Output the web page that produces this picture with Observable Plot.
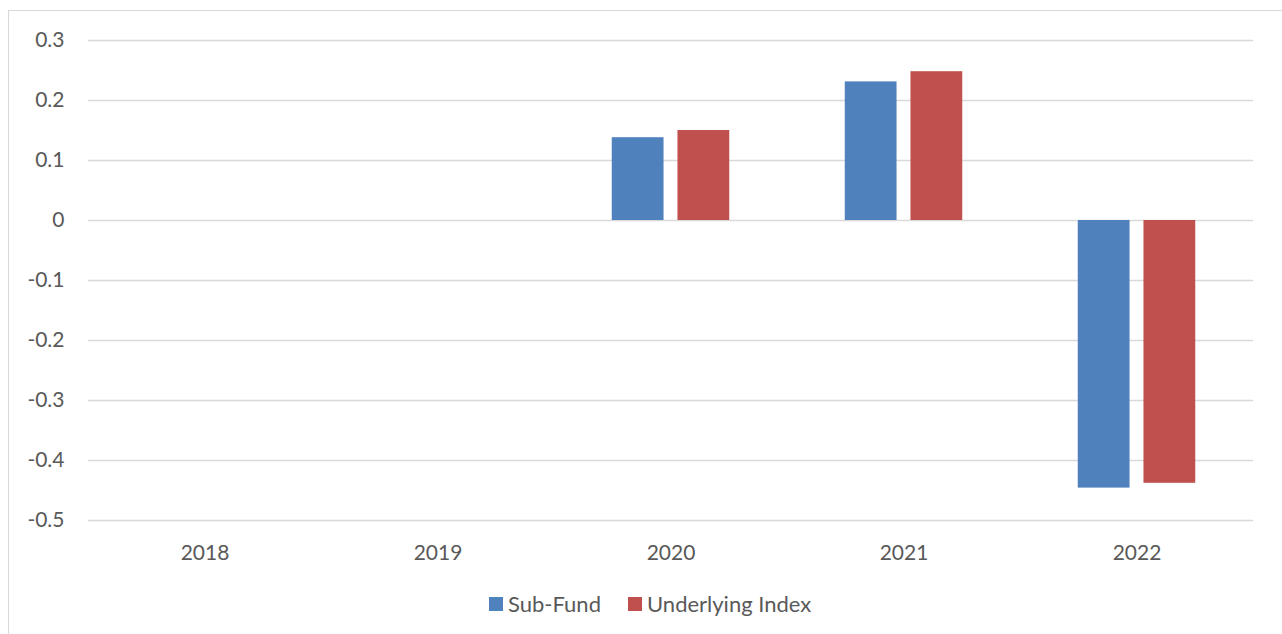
<!DOCTYPE html>
<html>
<head>
<meta charset="utf-8">
<script src="https://cdn.jsdelivr.net/npm/d3@7"></script>
<script src="https://cdn.jsdelivr.net/npm/@observablehq/plot@0.6"></script>
<style>
  html, body { margin: 0; padding: 0; background: #fff; overflow: hidden; }
  body { width: 1282px; height: 634px; position: relative; font-family: Lato, "Open Sans", sans-serif; }
  #frame { position: absolute; left: 8px; top: 10px; width: 1320px; height: 700px; border: 1px solid #d9d9d9; box-sizing: border-box; }
  #chart { position: absolute; left: 0; top: 0; }
  #legend .item { position: absolute; top: 590px; height: 27px; display: flex; align-items: center; font-size: 22px; color: #595959; white-space: nowrap; }
  #legend .sw { display: inline-block; width: 14px; height: 14px; margin-right: 5px; }
</style>
</head>
<body>
<div id="frame"></div>
<div id="chart"></div>
<div id="legend"></div>
<script>
const years = ["2018", "2019", "2020", "2021", "2022"];
const series = ["Sub-Fund", "Underlying Index"];
const subFund = [null, null, 0.138, 0.231, -0.446];
const underlyingIndex = [null, null, 0.150, 0.248, -0.438];
const yTicks = [0.3, 0.2, 0.1, 0, -0.1, -0.2, -0.3, -0.4, -0.5];
const colors = ["#4f81bd", "#c0504d"];

const table = [];
years.forEach((yr, i) => {
  [subFund, underlyingIndex].forEach((vals, j) => {
    if (vals[i] != null) table.push({year: yr, series: series[j], value: vals[i]});
  });
});
const gridTable = [];
years.forEach(yr => yTicks.forEach(t => gridTable.push({year: yr, tick: t})));

const chart = Plot.plot({
  width: 1282,
  height: 580,
  marginLeft: 86,
  marginRight: 27,
  marginTop: 40,
  marginBottom: 60,
  style: {fontFamily: "Lato, 'Open Sans', sans-serif", fontSize: "21px", color: "#595959", background: "transparent"},
  fx: {domain: years, padding: 0, label: null, axis: "bottom", tickSize: 0, tickPadding: 25},
  x: {domain: series, paddingInner: 0.212, paddingOuter: 0.879, round: false, axis: null},
  y: {domain: [-0.5, 0.3], ticks: yTicks, tickSize: 0, tickPadding: 24, label: null,
      tickFormat: d => String(Math.round(d * 10) / 10)},
  color: {domain: series, range: colors},
  marks: [
    Plot.ruleY(gridTable, {fx: "year", y: "tick", stroke: "#d9d9d9", strokeWidth: 1.4}),
    Plot.barY(table, {fx: "year", x: "series", y: "value", fill: "series"})
  ]
});
document.getElementById("chart").appendChild(chart);

const legend = document.getElementById("legend");
const legendLeft = [489, 628];
series.forEach((s, i) => {
  const item = document.createElement("span");
  item.className = "item";
  item.style.left = legendLeft[i] + "px";
  const sw = document.createElement("span");
  sw.className = "sw";
  sw.style.background = colors[i];
  item.appendChild(sw);
  item.appendChild(document.createTextNode(s));
  legend.appendChild(item);
});
</script>
</body>
</html>
